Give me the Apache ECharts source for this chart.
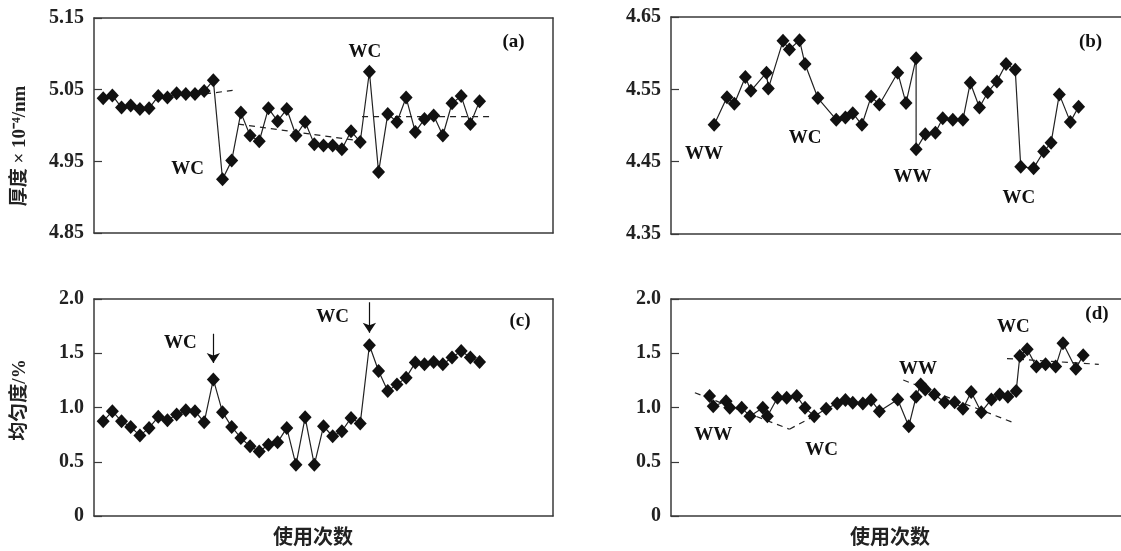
<!DOCTYPE html>
<html>
<head>
<meta charset="utf-8">
<script src="https://cdn.jsdelivr.net/npm/echarts@6/dist/echarts.min.js"></script>
<style>
  html, body { margin: 0; padding: 0; background: #fff; }
  #chart { width: 1121px; height: 551px; }
</style>
</head>
<body>
<div id="chart"></div>
<script>
// (a) 厚度 / (c) 均匀度 —— 使用次数 1..42
const idxAC = [1, 2, 3, 4, 5, 6, 7, 8, 9, 10, 11, 12, 13, 14, 15, 16, 17, 18, 19, 20, 21,
  22, 23, 24, 25, 26, 27, 28, 29, 30, 31, 32, 33, 34, 35, 36, 37, 38, 39, 40, 41, 42];
const thickA = [5.038, 5.042, 5.025, 5.028, 5.023, 5.024, 5.041, 5.039, 5.045, 5.044, 5.044,
  5.048, 5.063, 4.925, 4.951, 5.018, 4.986, 4.978, 5.024, 5.006, 5.023, 4.986, 5.005, 4.974,
  4.972, 4.972, 4.967, 4.992, 4.977, 5.075, 4.935, 5.016, 5.005, 5.039, 4.991, 5.009, 5.014,
  4.986, 5.031, 5.041, 5.002, 5.034];
const uniC = [0.873, 0.966, 0.873, 0.821, 0.741, 0.812, 0.914, 0.883, 0.935, 0.975, 0.966,
  0.864, 1.259, 0.957, 0.821, 0.719, 0.642, 0.595, 0.657, 0.679, 0.812, 0.472, 0.910, 0.472,
  0.827, 0.735, 0.781, 0.904, 0.852, 1.574, 1.336, 1.151, 1.213, 1.275, 1.414, 1.398, 1.419,
  1.398, 1.460, 1.521, 1.460, 1.419];

// (b) 厚度
const idxB = [4.7, 6.1, 6.9, 8.1, 8.7, 10.4, 10.6, 12.2, 12.9, 14.0, 14.6, 16.0, 18.0, 19.0,
  19.8, 20.8, 21.8, 22.7, 24.7, 25.6, 26.7, 26.7, 27.7, 28.8, 29.6, 30.7, 31.8, 32.6, 33.6,
  34.5, 35.5, 36.5, 37.5, 38.1, 39.5, 40.6, 41.4, 42.3, 43.5, 44.4];
const thickB = [4.501, 4.539, 4.530, 4.567, 4.548, 4.573, 4.551, 4.617, 4.605, 4.618, 4.585,
  4.538, 4.508, 4.511, 4.517, 4.501, 4.540, 4.529, 4.573, 4.531, 4.593, 4.467, 4.488, 4.490,
  4.510, 4.508, 4.508, 4.559, 4.525, 4.546, 4.561, 4.585, 4.577, 4.443, 4.441, 4.464, 4.476,
  4.543, 4.505, 4.526];

// (d) 均匀度
const idxD = [4.2, 4.6, 6.0, 6.4, 7.7, 8.6, 10.0, 10.5, 11.6, 12.6, 13.7, 14.6, 15.6, 16.9,
  18.1, 19.0, 19.8, 20.9, 21.8, 22.7, 24.7, 25.9, 26.7, 27.2, 27.7, 28.7, 29.8, 30.9, 31.8,
  32.7, 33.8, 34.9, 35.8, 36.7, 37.6, 38.0, 38.8, 39.8, 40.8, 41.9, 42.7, 44.1, 44.9];
const uniD = [1.105, 1.012, 1.058, 0.997, 0.997, 0.920, 0.997, 0.920, 1.090, 1.090, 1.105,
  0.997, 0.920, 0.988, 1.037, 1.068, 1.043, 1.037, 1.068, 0.966, 1.074, 0.827, 1.099, 1.213,
  1.167, 1.120, 1.049, 1.049, 0.988, 1.142, 0.957, 1.074, 1.120, 1.099, 1.151, 1.475, 1.537,
  1.377, 1.398, 1.377, 1.593, 1.358, 1.481];

// 趋势虚线
const trendA = [
  [[12.1, 5.044], [15.1, 5.049]],
  [[15.7, 5.002], [28.2, 4.980]],
  [[29.2, 5.0125], [43.1, 5.0125]]
];
const trendD = [
  [[2.6, 1.136], [12.9, 0.800]],
  [[12.9, 0.800], [15.9, 0.935]],
  [[25.3, 1.253], [37.2, 0.864]],
  [[36.6, 1.451], [46.6, 1.398]]
];

// 标注文字 [x, y, 文本]
const notesA = [[29.5, 5.102, 'WC'], [10.2, 4.939, 'WC'], [45.7, 5.116, '(a)']];
const notesB = [[3.6, 4.460, 'WW'], [14.6, 4.482, 'WC'], [26.3, 4.429, 'WW'], [37.9, 4.399, 'WC'], [45.7, 4.615, '(b)']];
const notesC = [[9.4, 1.593, 'WC'], [26.0, 1.831, 'WC'], [46.4, 1.799, '(c)']];
const notesD = [[4.6, 0.750, 'WW'], [16.4, 0.611, 'WC'], [26.9, 1.358, 'WW'], [37.3, 1.738, 'WC'], [46.4, 1.861, '(d)']];

// (c) 箭头
const arrowsC = [[[13, 1.68], [13, 1.41]], [[30, 1.97], [30, 1.69]]];

// y 轴范围 [min, max, interval]
const yRanges = [[4.85, 5.15, 0.1], [4.35, 4.65, 0.1], [0, 2, 0.5], [0, 2, 0.5]];

const SERIF = "'Liberation Serif', 'Times New Roman', serif";
const CJK = "'Liberation Serif', 'Noto Sans CJK SC', sans-serif";
const AXIS = '#3a3a3a';

// 右列超出画布，关闭 outerBounds 约束
const grids = [
  { left: 94, top: 18, width: 459, height: 215, outerBoundsMode: 'none' },
  { left: 671, top: 17, width: 459, height: 217, outerBoundsMode: 'none' },
  { left: 94, top: 299, width: 459, height: 217, outerBoundsMode: 'none' },
  { left: 671, top: 299, width: 459, height: 217, outerBoundsMode: 'none' }
];

const xAxis = [];
const yAxis = [];
grids.forEach((g, i) => {
  const hidden = { show: false };
  // 下边框 + 上边框
  xAxis.push({ gridIndex: i, type: 'value', min: 0, max: 50, position: 'bottom',
    axisLine: { onZero: false, lineStyle: { color: AXIS, width: 1.5 } },
    axisTick: hidden, axisLabel: hidden, splitLine: hidden });
  xAxis.push({ gridIndex: i, type: 'value', min: 0, max: 50, position: 'top',
    axisLine: { onZero: false, lineStyle: { color: AXIS, width: 1.5 } },
    axisTick: hidden, axisLabel: hidden, splitLine: hidden });
  const r = yRanges[i];
  yAxis.push({ gridIndex: i, type: 'value', min: r[0], max: r[1], interval: r[2], position: 'left',
    axisLine: { onZero: false, lineStyle: { color: AXIS, width: 1.5 } },
    axisTick: { inside: true, length: 8, lineStyle: { color: AXIS, width: 1.2 } },
    axisLabel: {
      margin: 10, color: '#222', fontFamily: SERIF, fontWeight: 'bold', fontSize: 20,
      formatter: v => (i < 2 ? v.toFixed(2) : (Math.abs(v) < 1e-9 ? '0' : v.toFixed(1)))
    },
    splitLine: hidden });
  // 右边框只在左列 (a)(c) 上出现
  yAxis.push({ gridIndex: i, type: 'value', position: 'right',
    axisLine: { show: i % 2 === 0, onZero: false, lineStyle: { color: AXIS, width: 1.5 } },
    axisTick: hidden, axisLabel: hidden, splitLine: hidden });
});

const zip = (xs, ys) => xs.map((x, k) => [x, ys[k]]);

function mainLine(i, xs, ys) {
  return {
    type: 'line', xAxisIndex: 2 * i, yAxisIndex: 2 * i, data: zip(xs, ys),
    symbol: 'diamond', symbolSize: [13, 14], z: 3,
    itemStyle: { color: '#111', opacity: 1 },
    lineStyle: { color: '#222', width: 1.2 }
  };
}

function trendLines(i, segs) {
  return segs.map(s => ({
    type: 'line', xAxisIndex: 2 * i, yAxisIndex: 2 * i, data: s,
    symbol: 'none', z: 2,
    lineStyle: { color: '#222', width: 1.2, type: [6, 5] }
  }));
}

function notes(i, list) {
  return {
    type: 'scatter', xAxisIndex: 2 * i, yAxisIndex: 2 * i, symbolSize: 0, z: 5,
    itemStyle: { opacity: 1, color: '#111' },
    data: list.map(n => ({ value: [n[0], n[1]], name: n[2] })),
    label: {
      show: true, position: 'inside', formatter: p => p.name, opacity: 1,
      color: '#111', fontFamily: SERIF, fontWeight: 'bold',
      fontSize: 19
    }
  };
}

const series = [
  mainLine(0, idxAC, thickA),
  mainLine(1, idxB, thickB),
  mainLine(2, idxAC, uniC),
  mainLine(3, idxD, uniD),
  ...trendLines(0, trendA),
  ...trendLines(3, trendD),
  notes(0, notesA), notes(1, notesB), notes(2, notesC), notes(3, notesD),
  {
    type: 'lines', coordinateSystem: 'cartesian2d', xAxisIndex: 4, yAxisIndex: 4,
    data: arrowsC.map(a => ({ coords: a })),
    symbol: ['none', 'arrow'], symbolSize: [7, 10],
    lineStyle: { color: '#111', width: 1.2, opacity: 1 }
  }
];

const chart = echarts.init(document.getElementById('chart'));
chart.setOption({
  animation: false,
  backgroundColor: '#fff',
  grid: grids,
  xAxis: xAxis,
  yAxis: yAxis,
  series: series,
  graphic: [
    { type: 'text', x: 20, y: 146, rotation: Math.PI / 2,
      style: { text: '厚度 × 10⁻⁴/nm', fontFamily: CJK, fontWeight: 'bold', fontSize: 19,
        fill: '#222', align: 'center', verticalAlign: 'middle' } },
    { type: 'text', x: 20, y: 400, rotation: Math.PI / 2,
      style: { text: '均匀度/%', fontFamily: CJK, fontWeight: 'bold', fontSize: 19,
        fill: '#222', align: 'center', verticalAlign: 'middle' } },
    { type: 'text', x: 313, y: 539,
      style: { text: '使用次数', fontFamily: CJK, fontWeight: 'bold', fontSize: 20,
        fill: '#222', align: 'center', verticalAlign: 'middle' } },
    { type: 'text', x: 890, y: 539,
      style: { text: '使用次数', fontFamily: CJK, fontWeight: 'bold', fontSize: 20,
        fill: '#222', align: 'center', verticalAlign: 'middle' } }
  ]
});
</script>
</body>
</html>
